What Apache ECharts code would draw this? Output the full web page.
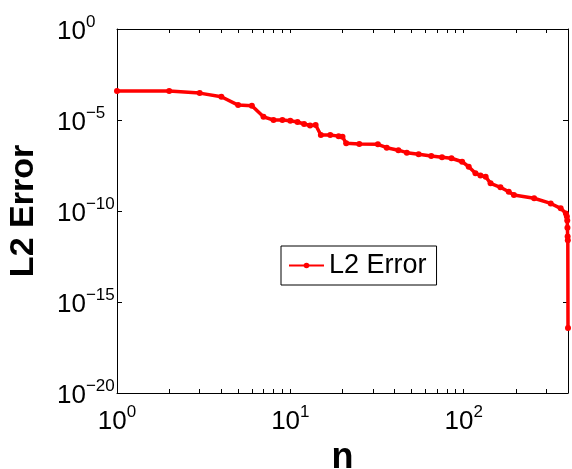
<!DOCTYPE html>
<html>
<head>
<meta charset="utf-8">
<script src="https://cdn.jsdelivr.net/npm/echarts@6/dist/echarts.min.js"></script>
<style>
  html, body { margin: 0; padding: 0; background: #fff; }
  #main { width: 572px; height: 469px; }
</style>
</head>
<body>
<div id="main"></div>
<script>
// n values
var nValues = [1, 2, 3, 4, 5, 6, 7, 8, 9, 10, 11, 12, 13, 14, 15, 17, 19, 20, 21, 25,
  32, 36, 42, 47, 55, 65, 75, 85, 98, 107, 117, 125, 134, 143, 163, 182, 195, 255,
  318, 363, 389, 394, 396, 397, 398, 399, 400];
// L2 error at each n
var errValues = [3.9e-4, 3.9e-4, 3.0e-4, 1.9e-4, 6.6e-5, 6.1e-5, 1.5e-5, 1.0e-5, 1.0e-5, 9.2e-6,
  7.8e-6, 6.0e-6, 5.0e-6, 5.3e-6, 1.5e-6, 1.5e-6, 1.3e-6, 1.2e-6, 5.2e-7, 4.8e-7,
  4.6e-7, 3.0e-7, 2.2e-7, 1.6e-7, 1.3e-7, 1.05e-7, 8.9e-8, 7.9e-8, 5.1e-8, 2.7e-8,
  1.2e-8, 8.9e-9, 7.6e-9, 3.3e-9, 2.0e-9, 1.15e-9, 7.6e-10, 5.0e-10, 2.6e-10, 1.4e-10,
  7.4e-11, 5.0e-11, 3.0e-11, 1.2e-11, 4.0e-12, 2.5e-12, 3.7e-17];

var xLabelTicks = [1, 10, 100];
var xMinorTicks = [1, 2, 3, 4, 5, 6, 7, 8, 9, 10, 20, 30, 40, 50, 60, 70, 80, 90, 100, 200, 300, 400];
var yLabelTicks = [1e-20, 1e-15, 1e-10, 1e-5, 1];

var FONT = 'Liberation Sans, Arial, sans-serif';

var chart = echarts.init(document.getElementById('main'));

// 10^k style labels
function powLabel(v) {
    var e = Math.round(Math.log10(v));
    return '{b|10}{s|' + (e < 0 ? '\u2212' + (-e) : e) + '}';
}
var richPow = {
    b: { fontSize: 26, fontFamily: FONT, color: '#000', lineHeight: 31, verticalAlign: 'bottom' },
    s: { fontSize: 17, fontFamily: FONT, color: '#000', lineHeight: 14, verticalAlign: 'top' }
};

var option = {
    animation: false,
    backgroundColor: '#fff',
    grid: { left: 117, right: 4, top: 29, bottom: 76, outerBoundsMode: 'none' },
    legend: {
        left: 281,
        top: 246,
        itemWidth: 35,
        itemHeight: 7,
        padding: [6, 10, 6, 7],
        borderColor: '#000',
        borderWidth: 1,
        backgroundColor: '#fff',
        textStyle: { fontSize: 27, color: '#000', fontFamily: FONT },
        data: ['L2 Error']
    },
    xAxis: [
        {
            type: 'log',
            min: 1,
            max: 400,
            position: 'bottom',
            name: 'n',
            nameLocation: 'middle',
            nameGap: 40,
            nameTextStyle: { fontSize: 36, fontWeight: 'bold', color: '#000', fontFamily: FONT },
            axisLine: { lineStyle: { color: '#000', width: 1 } },
            axisTick: { inside: true, length: 4, customValues: xMinorTicks, lineStyle: { color: '#000' } },
            axisLabel: {
                customValues: xLabelTicks,
                margin: 11,
                showMinLabel: true,
                showMaxLabel: true,
                formatter: powLabel,
                rich: richPow
            },
            splitLine: { show: false }
        },
        {
            type: 'log',
            min: 1,
            max: 400,
            position: 'top',
            axisLine: { lineStyle: { color: '#000', width: 1 } },
            axisTick: { inside: true, length: 4, customValues: xMinorTicks, lineStyle: { color: '#000' } },
            axisLabel: { show: false },
            splitLine: { show: false }
        }
    ],
    yAxis: [
        {
            type: 'log',
            min: 1e-20,
            max: 1,
            position: 'left',
            name: 'L2 Error',
            nameLocation: 'middle',
            nameGap: 76,
            nameTextStyle: { fontSize: 34, fontWeight: 'bold', color: '#000', fontFamily: FONT },
            axisLine: { lineStyle: { color: '#000', width: 1 } },
            axisTick: { inside: true, length: 5, customValues: yLabelTicks, lineStyle: { color: '#000' } },
            axisLabel: {
                customValues: yLabelTicks,
                margin: 60,
                align: 'left',
                showMinLabel: true,
                showMaxLabel: true,
                formatter: powLabel,
                rich: richPow
            },
            splitLine: { show: false }
        },
        {
            type: 'log',
            min: 1e-20,
            max: 1,
            position: 'right',
            axisLine: { lineStyle: { color: '#000', width: 1 } },
            axisTick: { inside: true, length: 5, customValues: yLabelTicks, lineStyle: { color: '#000' } },
            axisLabel: { show: false },
            splitLine: { show: false }
        }
    ],
    series: [
        {
            name: 'L2 Error',
            type: 'line',
            xAxisIndex: 0,
            yAxisIndex: 0,
            data: nValues.map(function (n, i) { return [n, errValues[i]]; }),
            symbol: 'circle',
            symbolSize: 6,
            showSymbol: true,
            lineStyle: { color: '#ff0000', width: 3.5 },
            itemStyle: { color: '#ff0000' }
        }
    ]
};

chart.setOption(option);
</script>
</body>
</html>
